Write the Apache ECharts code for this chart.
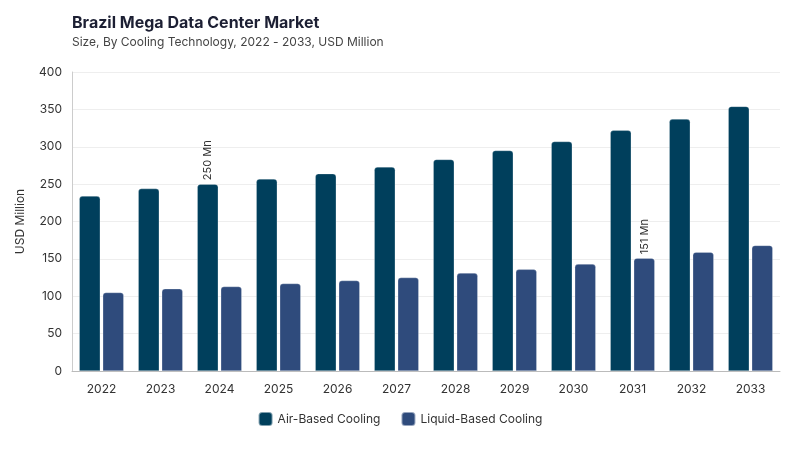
<!DOCTYPE html>
<html>
<head>
<meta charset="utf-8">
<script src="https://cdn.jsdelivr.net/npm/echarts@6/dist/echarts.min.js"></script>
<style>
html,body{margin:0;padding:0;background:#fff;}
#chart{width:800px;height:450px;}
</style>
</head>
<body>
<div id="chart"></div>
<script>
var years = ['2022','2023','2024','2025','2026','2027','2028','2029','2030','2031','2032','2033'];
var airBased = [234, 244, 250, 257, 264, 273, 283, 295, 307, 322, 337, 354];
var liquidBased = [105, 110, 113, 117, 121, 125, 131, 136, 143, 151, 159, 168];
var yTicks = [0, 50, 100, 150, 200, 250, 300, 350, 400];
var airLabelIndex = 2;
var liquidLabelIndex = 9;

var FONT = 'Inter, "DejaVu Sans", sans-serif';
var chart = echarts.init(document.getElementById('chart'));

function mkData(arr, idx) {
  return arr.map(function (v, i) {
    var d = { value: v };
    if (i === idx) {
      d.label = {
        show: true, position: 'top', rotate: 90, align: 'left', verticalAlign: 'middle',
        distance: 4, formatter: '{c} Mn', color: '#333', fontSize: 11, fontFamily: FONT
      };
    }
    return d;
  });
}

chart.setOption({
  backgroundColor: '#fff',
  title: {
    text: 'Brazil Mega Data Center Market',
    subtext: 'Size, By Cooling Technology, 2022 - 2033, USD Million',
    left: 67, top: 10,
    itemGap: 5,
    textStyle: { fontFamily: FONT, fontSize: 16, fontWeight: 'bold', color: '#1c1f33' },
    subtextStyle: { fontFamily: FONT, fontSize: 12, color: '#444' }
  },
  legend: {
    bottom: 18, left: 'center',
    itemWidth: 14, itemHeight: 14, itemGap: 20,
    icon: 'roundRect',
    textStyle: { fontFamily: FONT, fontSize: 12, color: '#333' },
    data: ['Air-Based Cooling', 'Liquid-Based Cooling']
  },
  grid: { left: 72, right: 20, top: 72, bottom: 79 },
  xAxis: {
    type: 'category',
    data: years,
    axisLine: { lineStyle: { color: '#bbb' } },
    axisTick: { show: false },
    axisLabel: { fontFamily: FONT, fontSize: 12, color: '#333', margin: 12 }
  },
  yAxis: {
    type: 'value',
    min: yTicks[0], max: yTicks[yTicks.length - 1], interval: 50,
    name: 'USD Million', nameLocation: 'middle', nameGap: 46,
    nameTextStyle: { fontFamily: FONT, fontSize: 12, color: '#333' },
    axisLine: { show: true, lineStyle: { color: '#ccc' } },
    axisTick: { show: false },
    axisLabel: { fontFamily: FONT, fontSize: 12, color: '#333', margin: 10 },
    splitLine: { lineStyle: { color: '#eee' } }
  },
  series: [
    {
      name: 'Air-Based Cooling', type: 'bar',
      data: mkData(airBased, airLabelIndex),
      barWidth: 21, barGap: '12%',
      itemStyle: { color: '#003f5c', borderRadius: [3, 3, 0, 0], borderColor: 'rgba(255,255,255,0.5)', borderWidth: 0.5 }
    },
    {
      name: 'Liquid-Based Cooling', type: 'bar',
      data: mkData(liquidBased, liquidLabelIndex),
      barWidth: 21,
      itemStyle: { color: '#2f4b7c', borderRadius: [3, 3, 0, 0], borderColor: 'rgba(255,255,255,0.5)', borderWidth: 0.5 }
    }
  ]
});
</script>
</body>
</html>
